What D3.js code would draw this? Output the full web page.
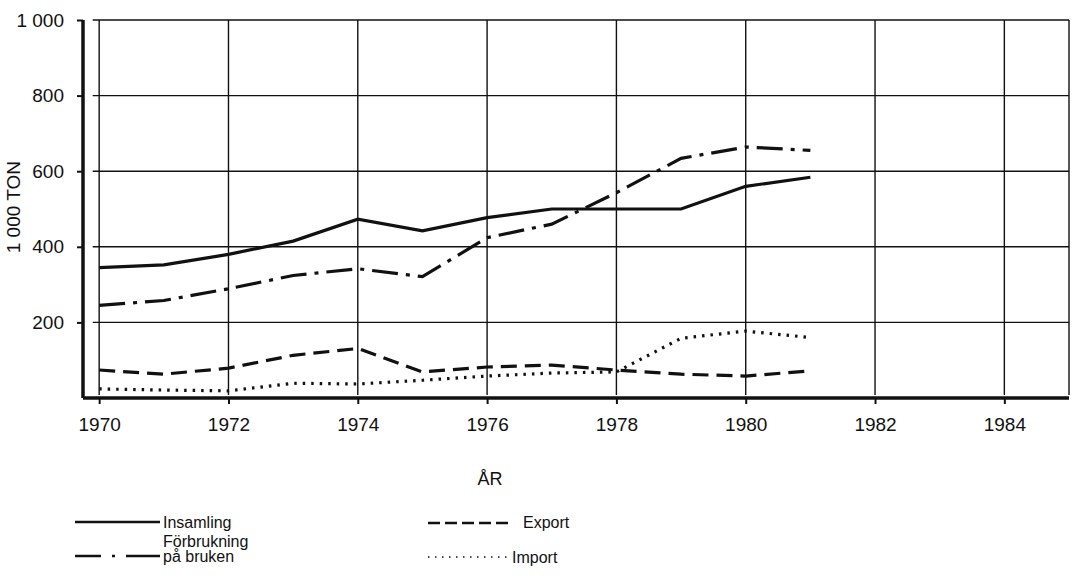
<!DOCTYPE html>
<html>
<head>
<meta charset="utf-8">
<script src="https://cdn.jsdelivr.net/npm/d3@7"></script>
<style>
  body { margin: 0; background: #fff; }
  text { font-family: "Liberation Sans", Arial, sans-serif; fill: #111; }
</style>
</head>
<body>
<svg id="chart" width="1077" height="587"></svg>
<script>
var years = [1970,1971,1972,1973,1974,1975,1976,1977,1978,1979,1980,1981];
var insamling   = [345,352,380,415,473,442,477,500,500,500,560,584];
var forbrukning = [245,258,289,324,342,321,424,460,543,634,664,655];
var exportData  = [74,63,79,113,131,69,82,87,74,63,58,72];
var importData  = [24,21,19,39,37,47,58,66,69,158,177,160];
var yTicks = [200,400,600,800,1000];
var xTicks = [1970,1972,1974,1976,1978,1980,1982,1984];

var svg = d3.select("#chart");
var x = d3.scaleLinear().domain([1969.75, 1985]).range([83, 1069]);
var y = d3.scaleLinear().domain([0, 1000]).range([398, 20]);
var tickFont = "19px";

// gridlines
svg.selectAll("hgrid")
    .data(yTicks)
    .enter()
    .append("line")
    .attr("x1", x(1969.9))
    .attr("x2", x(1985))
    .attr("y1", function(d) { return y(d); })
    .attr("y2", function(d) { return y(d); })
    .style("stroke", "#111")
    .style("stroke-width", 1.4);
svg.selectAll("vgrid")
    .data(xTicks.concat([1985]))
    .enter()
    .append("line")
    .attr("x1", function(d) { return x(d); })
    .attr("x2", function(d) { return x(d); })
    .attr("y1", y(1000))
    .attr("y2", y(8))
    .style("stroke", "#111")
    .style("stroke-width", 1.4);

// axes
var yAxis = d3.axisLeft(y).tickValues(yTicks).tickSize(6)
    .tickFormat(function(d) { return d == 1000 ? "1 000" : d; });
var gy = svg.append("g").attr("transform", "translate(" + x.range()[0] + ",0)").call(yAxis);
gy.attr("font-size", null).attr("font-family", null);
gy.select(".domain").attr("d", "M0," + y(1000) + "V" + y(0)).style("stroke-width", 3.5);
gy.selectAll(".tick line").style("stroke-width", 2);
gy.selectAll(".tick text").attr("x", -19).style("font-size", tickFont);

var xAxis = d3.axisBottom(x).tickValues(xTicks).tickSize(6).tickFormat(d3.format("d"));
var gx = svg.append("g").attr("transform", "translate(0," + y(0) + ")").call(xAxis);
gx.attr("font-size", null).attr("font-family", null);
gx.select(".domain").attr("d", "M" + x.range()[0] + ",0H" + x(1985)).style("stroke-width", 3.5);
gx.selectAll(".tick line").style("stroke-width", 2);
gx.selectAll(".tick text").attr("y", 20).style("font-size", tickFont);
svg.selectAll(".domain, .tick line").style("stroke", "#111");

svg.append("text")
    .text("1 000 TON")
    .attr("transform", "translate(20," + y(505) + ") rotate(-90)")
    .style("text-anchor", "middle")
    .style("font-size", tickFont);
svg.append("text")
    .text("ÅR")
    .attr("x", 490)
    .attr("y", 485)
    .style("text-anchor", "middle")
    .style("font-size", "18px");

// series
var series = [
  {name:"insamling", values:insamling, dash:null},
  {name:"forbrukning", values:forbrukning, dash:"26,8,4,8"},
  {name:"export", values:exportData, dash:"16,8"},
  {name:"import", values:importData, dash:"2.5,6"}
];
var line = d3.line()
    .x(function(d, i) { return x(years[i]); })
    .y(function(d) { return y(d); });
svg.selectAll("series")
    .data(series)
    .enter()
    .append("path")
    .attr("d", function(d) { return line(d.values); })
    .style("fill", "none")
    .style("stroke", "#111")
    .style("stroke-width", 3.2)
    .style("stroke-dasharray", function(d) { return d.dash; });

// legend
var legend = [
  {label:["Insamling"], dash:null, x1:75, x2:160, ly:522, tx:163, ty:[528]},
  {label:["Förbrukning","på bruken"], dash:"26,11,3,11,40", x1:75, x2:160, ly:556, tx:163, ty:[547,562]},
  {label:["Export"], dash:"12,5", x1:428, x2:510, ly:523, tx:523, ty:[528]},
  {label:["Import"], dash:"1.5,5.5", x1:428, x2:510, ly:557, tx:512, ty:[563]}
];
svg.selectAll("legend_lines")
    .data(legend)
    .enter()
    .append("line")
    .attr("x1", function(d) { return d.x1; })
    .attr("x2", function(d) { return d.x2; })
    .attr("y1", function(d) { return d.ly; })
    .attr("y2", function(d) { return d.ly; })
    .style("stroke", "#111")
    .style("stroke-width", function(d) { return d.dash == "1.5,5.5" ? 1.5 : 2.5; })
    .style("stroke-dasharray", function(d) { return d.dash; });
legend.forEach(function(d) {
  d.label.forEach(function(t, i) {
    svg.append("text")
        .attr("x", d.tx)
        .attr("y", d.ty[i])
        .style("font-size", "16px")
        .text(t);
  });
});
</script>
</body>
</html>
